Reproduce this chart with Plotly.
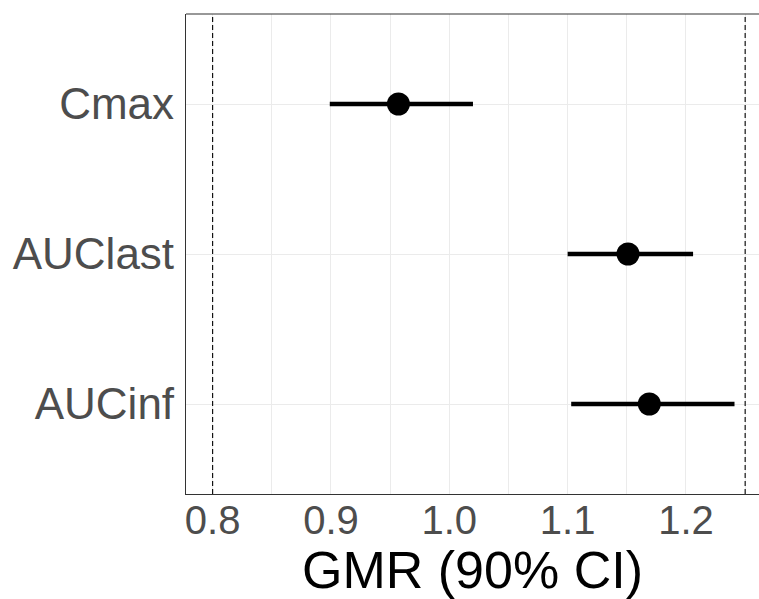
import plotly.graph_objects as go

# Data
parameters = ["Cmax", "AUClast", "AUCinf"]
gmr = [0.957, 1.151, 1.169]
ci_lower = [0.899, 1.100, 1.103]
ci_upper = [1.020, 1.206, 1.241]
ref_limits = [0.8, 1.25]
x_ticks = [0.8, 0.9, 1.0, 1.1, 1.2]
x_tick_labels = ["0.8", "0.9", "1.0", "1.1", "1.2"]

err_plus = [u - g for u, g in zip(ci_upper, gmr)]
err_minus = [g - l for g, l in zip(gmr, ci_lower)]

FONT = "Liberation Sans, Arial, sans-serif"

fig = go.Figure()
fig.add_trace(go.Scatter(
    x=gmr, y=parameters, mode="markers",
    marker=dict(color="black", size=23, line=dict(width=0)),
    error_x=dict(type="data", symmetric=False, array=err_plus, arrayminus=err_minus,
                 color="black", thickness=4.5, width=0),
    showlegend=False,
))

for v in ref_limits:
    fig.add_shape(type="line", xref="x", yref="paper", x0=v, x1=v, y0=0, y1=1,
                  line=dict(color="black", width=1.1, dash="5px,3px"), layer="above")

# panel border top edge (the right edge lies outside the picture)
fig.add_shape(type="line", xref="paper", yref="paper", x0=0, x1=1.02, y0=1, y1=1,
              line=dict(color="#333333", width=1.2), layer="above")

fig.update_layout(
    width=759, height=599,
    margin=dict(l=186, r=0, t=14, b=105),
    plot_bgcolor="white", paper_bgcolor="white",
    font=dict(family=FONT),
    xaxis=dict(
        range=[0.7775, 1.2617],
        tickvals=x_ticks, ticktext=x_tick_labels,
        tickfont=dict(size=40, color="#4D4D4D"),
        showgrid=True, gridcolor="#EBEBEB", gridwidth=1.2,
        minor=dict(dtick=0.05, tick0=0.8, showgrid=True, gridcolor="#EBEBEB", gridwidth=0.9, ticks=""),
        showline=True, linecolor="#333333", linewidth=1.2, mirror=False,
        ticks="", zeroline=False, ticklabelstandoff=-9,
        title=dict(text="GMR (90% CI)", font=dict(size=52, color="black"), standoff=0),
    ),
    yaxis=dict(
        type="category",
        categoryorder="array", categoryarray=parameters[::-1],
        range=[-0.6, 2.6],
        tickfont=dict(size=44, color="#4D4D4D"),
        showgrid=True, gridcolor="#EBEBEB", gridwidth=1.2,
        showline=True, linecolor="#333333", linewidth=1.2, mirror=False,
        ticks="", ticklabelstandoff=2, zeroline=False,
    ),
)

fig.write_html(
    "out.html",
    config={"displayModeBar": False},
    post_script="document.body.style.margin='0';document.documentElement.style.overflow='hidden';",
)
